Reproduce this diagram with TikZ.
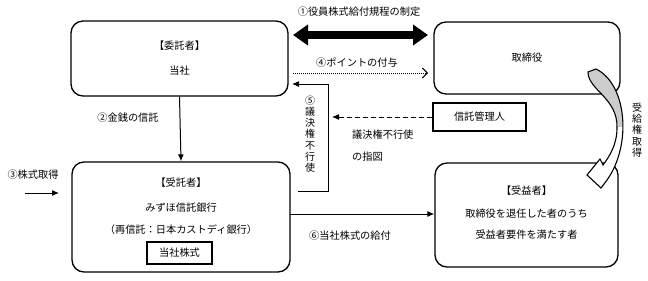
\documentclass[tikz,border=0pt]{standalone}
\usepackage{fontspec}
\newfontfamily\jp{Noto Sans CJK JP}
\usetikzlibrary{arrows.meta}
\begin{document}
\begin{tikzpicture}[x=1pt,y=-1pt,
  every node/.style={font=\jp\fontsize{10.2}{12}\selectfont, inner sep=0pt},
  roundbox/.style={draw, line width=1.3pt, rounded corners=12pt},
  plainbox/.style={draw, line width=1.2pt},
  conn/.style={line width=1pt},
  tip/.style={-{Latex[length=7pt,width=6pt]}},
  vtext/.style={align=center, font=\jp\fontsize{10}{11.2}\selectfont}
]
\useasboundingbox (0,0) rectangle (648,281);

% boxes
\node[roundbox, minimum width=217pt, minimum height=75pt] (itaku) at (179.5,58.5) {};
\node[roundbox, minimum width=186pt, minimum height=72pt] (tori) at (527,58) {};
\node[roundbox, minimum width=218pt, minimum height=110pt] (jutaku) at (181,217) {};
\node[roundbox, minimum width=183pt, minimum height=104pt] (jueki) at (526.5,215) {};
\node[plainbox, minimum width=93pt, minimum height=28pt] (kanri) at (479.5,117) {信託管理人};
\node[plainbox, minimum width=65pt, minimum height=22pt] (kabu) at (179.5,253) {当社株式};

% box texts
\node (itakuA) at (179.5,46) {【委託者】};
\node (itakuB) at (179.5,71) {当社};
\node (toriA) at (527,58) {取締役};
\node (jutakuA) at (181,183) {【受託者】};
\node (jutakuB) at (181,208) {みずほ信託銀行};
\node (jutakuC) at (181,230) {（再信託：日本カストディ銀行）};
\node (juekiA) at (526.5,191) {【受益者】};
\node (juekiB) at (526.5,214) {取締役を退任した者のうち};
\node (juekiC) at (526.5,235) {受益者要件を満たす者};

% labels
\node (l1) at (359,12) {①役員株式給付規程の制定};
\node (l4) at (357,63) {④ポイントの付与};
\node[vtext] (l5) at (310,134) {⑤\\議\\決\\権\\不\\行\\使};
\node[anchor=west] (l5a) at (352,135) {議決権不行使};
\node[anchor=west] (l5b) at (352,157) {の指図};
\node (l2) at (128,118) {②金銭の信託};
\node (l3) at (33,175) {③株式取得};
\node (l6) at (350,236) {⑥当社株式の給付};
\node[vtext] (l7) at (637,130) {受\\給\\権\\取\\得};

% coordinates for connector ends
\coordinate (dL) at (293,35);
\coordinate (dR) at (428,35);
\coordinate (pL) at (293,73);
\coordinate (pR) at (428,73);
\coordinate (v5a) at (298,191);
\coordinate (v5b) at (328,191);
\coordinate (v5c) at (328,84);
\coordinate (v5d) at (292,84);
\coordinate (dashEnd) at (332,117);
\coordinate (s3a) at (25,193);
\coordinate (s3b) at (59,193);
\coordinate (s6) at (290,214);

% connectors
\draw[line width=8pt, {Triangle[length=15pt,width=20pt]}-{Triangle[length=15pt,width=20pt]}] (dL) -- (dR);
\draw[line width=0.9pt, dash pattern=on 1pt off 1pt, -{Straight Barb[length=5pt,width=10pt]}] (pL) -- (pR);
\draw[conn, tip] (v5a) -- (v5b) -- (v5c) -- (v5d);
\draw[conn, dash pattern=on 5pt off 3pt, tip] (kanri.west) -- (dashEnd);
\draw[conn, tip] (itaku.south) -- (jutaku.north);
\draw[conn, tip] (s3a) -- (s3b);
\draw[conn, tip] (s6) -- (s6 -| jueki.west);

% curved arrow 受給権取得
\fill[white] (588,72) .. controls (588,90) and (618,98) .. (617,128) .. controls (617,145) and (609,157) .. (603,165) -- (600,159) -- (587,175) -- (601,188) -- (607,180) .. controls (632,145) and (627,84) .. (596,69) -- cycle;
\begin{scope}
\clip (560,60) rectangle (640,126);
\fill[gray!40] (588,72) .. controls (588,90) and (618,98) .. (617,128) .. controls (617,145) and (609,157) .. (603,165) -- (607,180) .. controls (632,145) and (627,84) .. (596,69) -- cycle;
\end{scope}
\draw[line width=1.1pt, line join=miter] (588,72) .. controls (588,90) and (618,98) .. (617,128) .. controls (617,145) and (609,157) .. (603,165) -- (600,159) -- (587,175) -- (601,188) -- (607,180) .. controls (632,145) and (627,84) .. (596,69) -- cycle;
\end{tikzpicture}
\end{document}
